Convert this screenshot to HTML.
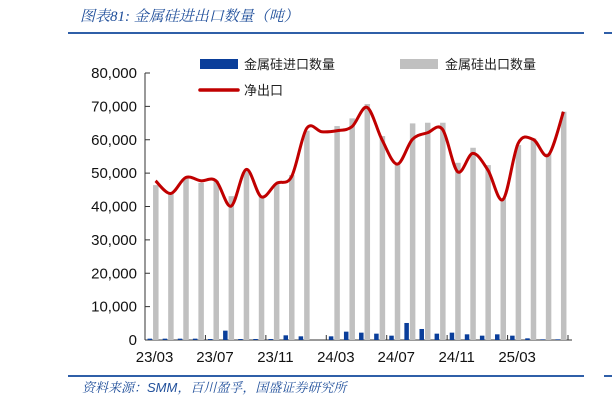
<!DOCTYPE html>
<html><head><meta charset="utf-8"><style>
body{margin:0;background:#fff;width:612px;height:409px;overflow:hidden;font-family:"Liberation Sans","Noto Sans CJK SC",sans-serif}
</style></head><body>
<svg width="612" height="409" xmlns="http://www.w3.org/2000/svg">
<text x="80" y="21" font-size="15" fill="#1f4e9a" font-style="italic" font-family="'Liberation Serif','Noto Serif CJK SC',serif">图表81: 金属硅进出口数量（吨）</text>
<rect x="68" y="32" width="516" height="2" fill="#2f5fa8"/>
<rect x="604" y="32" width="8" height="2" fill="#2f5fa8"/>
<rect x="68" y="375" width="516" height="2" fill="#2f5fa8"/>
<rect x="604" y="375" width="8" height="2" fill="#2f5fa8"/>
<text x="82" y="392" font-size="13" fill="#1f4e9a" font-style="italic" font-family="'Liberation Sans','Noto Serif CJK SC',sans-serif">资料来源：SMM，百川盈孚，国盛证券研究所</text>
<g>
<rect x="200" y="59" width="38" height="10" fill="#0a3e9a"/>
<text x="244" y="69" font-size="13" fill="#222">金属硅进口数量</text>
<rect x="400" y="59" width="38" height="10" fill="#c0c0c0"/>
<text x="445" y="69" font-size="13" fill="#222">金属硅出口数量</text>
<line x1="200" y1="90" x2="238" y2="90" stroke="#c00000" stroke-width="3.5" stroke-linecap="round"/>
<text x="244" y="95" font-size="13" fill="#222">净出口</text>
</g>
<g id="plot"></g>
</svg>
<script>
const categories=["23/03","23/04","23/05","23/06","23/07","23/08","23/09","23/10","23/11","23/12","24/01","24/02","24/03","24/04","24/05","24/06","24/07","24/08","24/09","24/10","24/11","24/12","25/01","25/02","25/03","25/04","25/05","25/06"];
const exportVals=[46400,43900,48400,47100,47700,43100,50900,42900,46900,49400,62700,null,64100,66400,70700,61100,52700,64900,65100,65100,53100,57600,52400,42500,58400,60400,55900,68400];
const importVals=[400,400,400,400,300,2800,300,300,300,1400,1100,null,1100,2500,2200,1900,1300,5100,3300,1900,2200,1700,1300,1700,1300,500,200,200];
const netVals=[47700,43900,48700,47700,47700,40100,51100,42900,46900,48900,63400,62400,62700,63900,69700,59900,52700,60100,62100,63100,50400,55900,50900,42100,58900,60100,55400,68400];
const yTicks=[0,10000,20000,30000,40000,50000,60000,70000,80000];
const xLabelIdx=[0,4,8,12,16,20,24];
const NS="http://www.w3.org/2000/svg";
const g=document.getElementById('plot');
const x0=145,x1=568,y0=340,yTop=73;
const bw=(x1-x0)/categories.length;
const yS=v=>y0-(v/80000)*(y0-yTop);
const xC=i=>x0+bw*(i+0.5);
function mk(t,a){const e=document.createElementNS(NS,t);for(const k in a)e.setAttribute(k,a[k]);g.appendChild(e);return e;}
let e=mk('line',{x1:x0,y1:yTop,x2:x0,y2:y0,stroke:'#333','stroke-width':1});

e=mk('line',{x1:x0,y1:y0,x2:x1+4,y2:y0,stroke:'#333','stroke-width':1});

yTicks.forEach(v=>{const y=yS(v);
 let t=mk('line',{x1:x0,y1:y,x2:x0+5,y2:y,stroke:'#333'});
 
 let l=mk('text',{x:x0-8,y:y+5,'text-anchor':'end','font-size':15,fill:'#111'});
 l.textContent=v.toLocaleString('en-US');
 });
for(let i=0;i<=categories.length;i+=4){const x=x0+bw*i;
 let t=mk('line',{x1:x,y1:y0,x2:x,y2:y0-5,stroke:'#333'});
 }
xLabelIdx.forEach(i=>{let l=mk('text',{x:xC(i)+2,y:362,'text-anchor':'middle','font-size':15,fill:'#111'});
 l.textContent=categories[i];});
categories.forEach((c,i)=>{
 if(exportVals[i]!=null){let r=mk('rect',{x:xC(i)+0.5,y:yS(exportVals[i]),width:5.5,height:y0-yS(exportVals[i]),fill:'#c0c0c0'});
  }
 if(importVals[i]!=null){let r=mk('rect',{x:xC(i)-5,y:yS(importVals[i]),width:4.5,height:y0-yS(importVals[i]),fill:'#0a3e9a'});
  }
});
const pts=netVals.map((v,i)=>[xC(i)+3,yS(v)]);
let d='M'+pts[0][0]+','+pts[0][1];
for(let i=0;i<pts.length-1;i++){const p0=pts[i-1]||pts[i],p1=pts[i],p2=pts[i+1],p3=pts[i+2]||p2;
 d+=` C${p1[0]+(p2[0]-p0[0])/6},${p1[1]+(p2[1]-p0[1])/6} ${p2[0]-(p3[0]-p1[0])/6},${p2[1]-(p3[1]-p1[1])/6} ${p2[0]},${p2[1]}`;}
e=mk('path',{d:d,fill:'none',stroke:'#c00000','stroke-width':3,'stroke-linejoin':'round'});

</script>
</body></html>
